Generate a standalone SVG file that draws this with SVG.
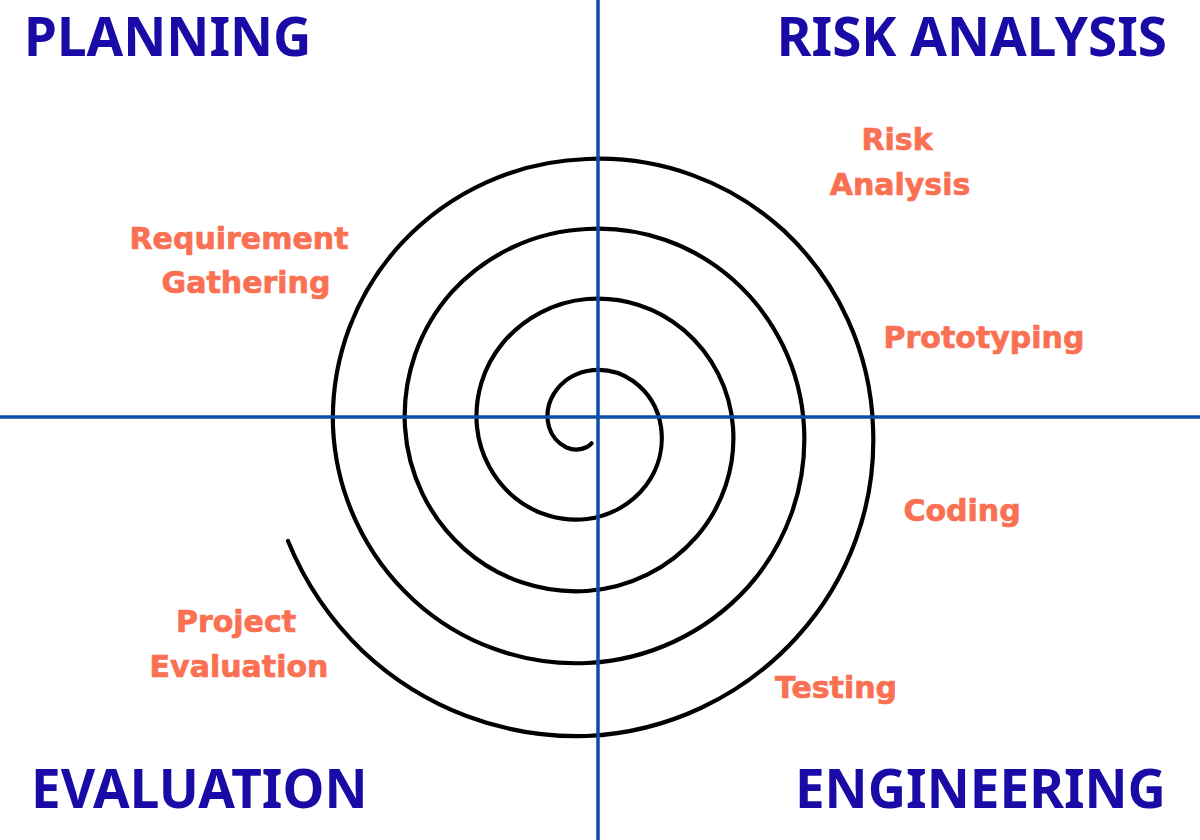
<svg xmlns="http://www.w3.org/2000/svg" width="1200" height="840" viewBox="0 0 1200 840">
<style>
.title{font-family:"Noto Sans","Open Sans","Liberation Sans",sans-serif;font-weight:700;font-stretch:normal;font-size:53px;fill:#1a0aa6}
.lbl{font-family:"DejaVu Sans","Liberation Sans",sans-serif;font-weight:700;font-size:30px;fill:#fa7052;stroke:#fa7052;stroke-width:0.7;text-anchor:middle}
.axis{stroke:#0b4ea6;stroke-width:3.5;fill:none}
.spiral{stroke:#000;stroke-width:4.2;fill:none;stroke-linecap:round}
</style>
<rect width="1200" height="840" fill="#fff"/>
<g id="connectors">
<path id="spiral" class="spiral" d="M591.5,443.3 A18,18 0 0 1 587,447 A24.5,24.5 0 0 1 566.5,447.5 A33.5,33.5 0 0 1 549,427 A42.5,42.5 0 0 1 553.8,393.8 A51.5,51.5 0 0 1 587,371 A60.5,60.5 0 0 1 633,381 A69.5,69.5 0 0 1 661,427 A78.5,78.5 0 0 1 645.7,485.7 A87.5,87.5 0 0 1 587,519 A96.5,96.5 0 0 1 515.6,498.4 A105.5,105.5 0 0 1 477,427 A114.5,114.5 0 0 1 502.9,342.9 A123.5,123.5 0 0 1 587,299 A132.5,132.5 0 0 1 683.9,330.1 A141.5,141.5 0 0 1 733,427 A150.5,150.5 0 0 1 696.6,536.6 A159.5,159.5 0 0 1 587,591 A168.5,168.5 0 0 1 464.7,549.3 A177.5,177.5 0 0 1 405,427 A186.5,186.5 0 0 1 451.9,291.9 A194.5,194.5 0 0 1 587,229 A203,203 0 0 1 733.7,280.3 A212,212 0 0 1 804,427 A222,222 0 0 1 747.5,587.5 A231.5,231.5 0 0 1 587,663 A240.5,240.5 0 0 1 413.8,600.2 A249.5,249.5 0 0 1 333,427 A257.5,257.5 0 0 1 402.4,242.4 A264.5,264.5 0 0 1 587,159 A273,273 0 0 1 783.6,230.4 A282,282 0 0 1 873,427 A291.5,291.5 0 0 1 797,637 A302,302 0 0 1 587,736 A312.5,312.5 0 0 1 362.8,651.2 A319.5,319.5 0 0 1 288,541"/>
<line class="axis" x1="598" y1="0" x2="598" y2="840"/>
<line class="axis" x1="0" y1="417" x2="1200" y2="417"/>
</g>
<g id="planning"><text class="title" x="24" y="56">PLANNING</text></g>
<g id="risk-analysis"><text class="title" x="1167" y="56" text-anchor="end">RISK ANALYSIS</text></g>
<g id="evaluation"><text class="title" x="31" y="808">EVALUATION</text></g>
<g id="engineering"><text class="title" x="1166" y="808" text-anchor="end">ENGINEERING</text></g>
<g id="req-gathering"><text class="lbl" x="239" y="249">Requirement</text><text class="lbl" x="246" y="293">Gathering</text></g>
<g id="risk-analysis-step"><text class="lbl" x="897" y="150">Risk</text><text class="lbl" x="900" y="195">Analysis</text></g>
<g id="prototyping"><text class="lbl" x="984" y="348">Prototyping</text></g>
<g id="coding"><text class="lbl" x="962" y="521">Coding</text></g>
<g id="testing"><text class="lbl" x="836" y="698">Testing</text></g>
<g id="project-evaluation"><text class="lbl" x="236" y="632">Project</text><text class="lbl" x="239" y="677">Evaluation</text></g>
</svg>
